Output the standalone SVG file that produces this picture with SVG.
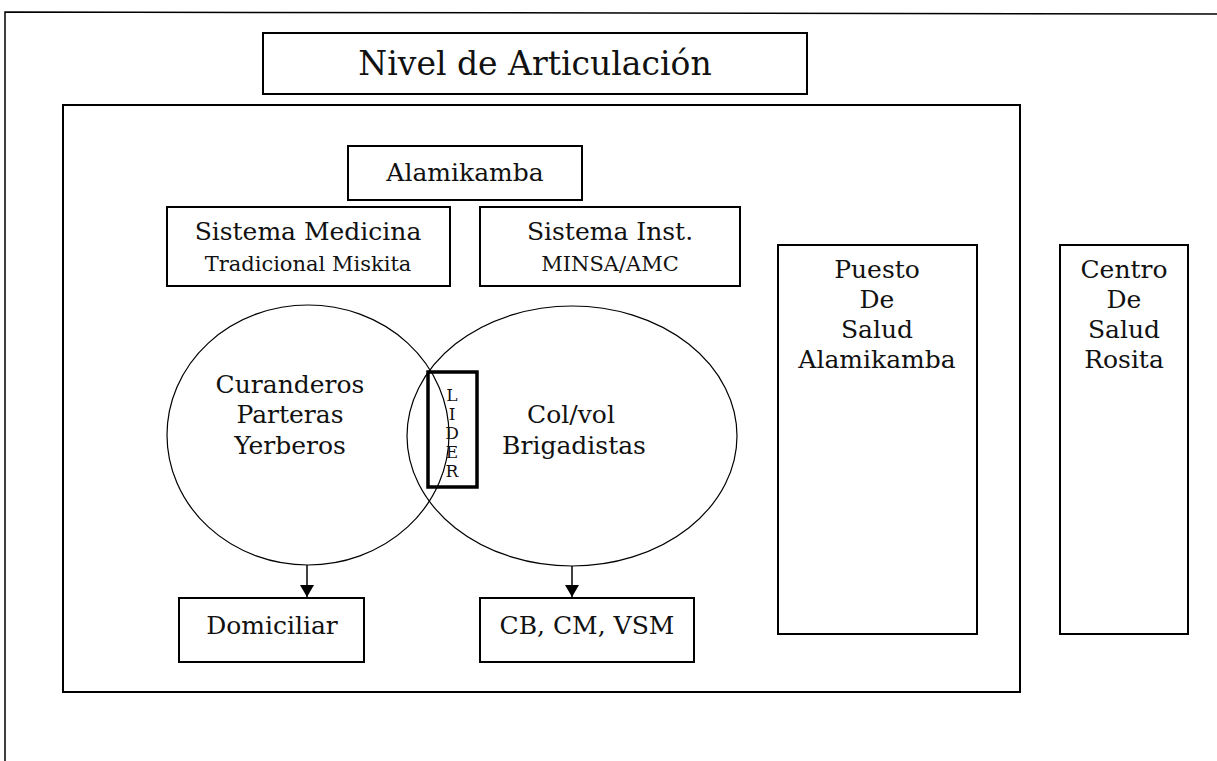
<svg xmlns="http://www.w3.org/2000/svg" width="1217" height="761" viewBox="0 0 1217 761">
<style>
.box{fill:none;stroke:#000;stroke-width:2}
.ell{fill:none;stroke:#000;stroke-width:1.2}
.t{font-family:"DejaVu Serif","Liberation Serif",serif;fill:#111;text-anchor:middle;font-size:25px}
.s{font-size:21px}
.l{font-size:17px}
.conn{stroke:#000;stroke-width:1.5;fill:none}
</style>
<defs>
<marker id="arr" viewBox="0 0 12 14" refX="12" refY="7" markerWidth="12" markerHeight="14" markerUnits="userSpaceOnUse" orient="auto">
<path d="M0,0 L12,7 L0,14 Z" fill="#000"/>
</marker>
</defs>
<rect width="1217" height="761" fill="#fff"/>
<g id="frame">
<path d="M5,761 L5,12 L1217,14" fill="none" stroke="#000" stroke-width="1.5"/>
</g>
<g id="title">
<rect class="box" x="263" y="33" width="544" height="61"/>
<text class="t" x="535" y="75" style="font-size:33px">Nivel de Articulación</text>
</g>
<g id="main">
<rect class="box" x="63" y="105" width="957" height="587"/>
</g>
<g id="alamikamba">
<rect class="box" x="348" y="146" width="234" height="54"/>
<text class="t" x="465" y="181">Alamikamba</text>
</g>
<g id="sistema-medicina">
<rect class="box" x="167" y="207" width="283" height="79"/>
<text class="t" x="308" y="240">Sistema Medicina</text>
<text class="t s" x="308" y="271">Tradicional Miskita</text>
</g>
<g id="sistema-inst">
<rect class="box" x="480" y="207" width="260" height="79"/>
<text class="t" x="610" y="240">Sistema Inst.</text>
<text class="t s" x="610" y="271">MINSA/AMC</text>
</g>
<g id="ellipse-tradicional">
<ellipse class="ell" cx="308" cy="435" rx="141" ry="130"/>
<text class="t" x="290" y="393">Curanderos</text>
<text class="t" x="290" y="423">Parteras</text>
<text class="t" x="290" y="454">Yerberos</text>
</g>
<g id="ellipse-inst">
<ellipse class="ell" cx="572" cy="436" rx="165" ry="130"/>
<text class="t" x="571" y="423">Col/vol</text>
<text class="t" x="574" y="454">Brigadistas</text>
</g>
<g id="lider">
<rect x="428" y="372" width="49" height="115" fill="none" stroke="#000" stroke-width="3.5"/>
<text class="t l" x="452" y="401">L</text>
<text class="t l" x="452" y="420">I</text>
<text class="t l" x="452" y="439">D</text>
<text class="t l" x="452" y="458">E</text>
<text class="t l" x="452" y="477">R</text>
</g>
<g id="domiciliar">
<rect class="box" x="179" y="598" width="185" height="64"/>
<text class="t" x="272" y="634">Domiciliar</text>
</g>
<g id="cb-cm-vsm">
<rect class="box" x="480" y="598" width="214" height="64"/>
<text class="t" x="587" y="634">CB, CM, VSM</text>
</g>
<g id="puesto">
<rect class="box" x="778" y="245" width="199" height="389"/>
<text class="t" x="877" y="278">Puesto</text>
<text class="t" x="877" y="308">De</text>
<text class="t" x="877" y="338">Salud</text>
<text class="t" x="877" y="368">Alamikamba</text>
</g>
<g id="centro">
<rect class="box" x="1060" y="245" width="128" height="389"/>
<text class="t" x="1124" y="278">Centro</text>
<text class="t" x="1124" y="308">De</text>
<text class="t" x="1124" y="338">Salud</text>
<text class="t" x="1124" y="368">Rosita</text>
</g>
<g id="connectors">
<line class="conn" x1="307" y1="565" x2="307" y2="597" marker-end="url(#arr)"/>
<line class="conn" x1="572" y1="566" x2="572" y2="597" marker-end="url(#arr)"/>
</g>
</svg>
